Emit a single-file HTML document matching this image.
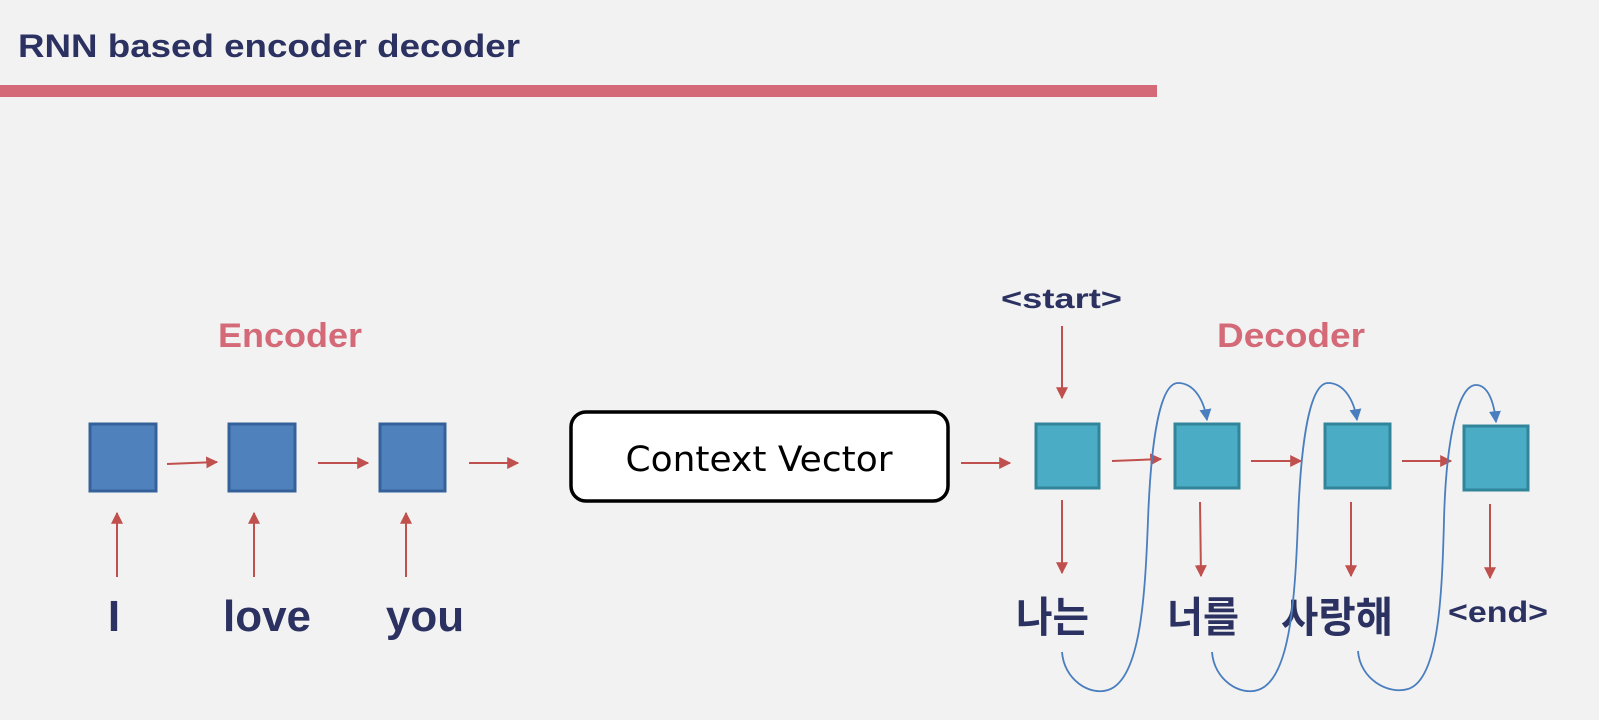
<!DOCTYPE html>
<html><head><meta charset="utf-8"><style>
html,body{margin:0;padding:0;background:#f2f2f2;}
svg{display:block;}
</style></head><body>
<svg width="1599" height="720" viewBox="0 0 1599 720" xmlns="http://www.w3.org/2000/svg">
<defs>
<marker id="ra" viewBox="0 0 10 10" refX="9" refY="5" markerWidth="4.5" markerHeight="4.5" orient="auto" markerUnits="userSpaceOnUse"><path d="M0,0 L10,5 L0,10 z" fill="#c0504d"/></marker>
<marker id="r" viewBox="0 0 10 10" refX="9" refY="5" markerWidth="12" markerHeight="12" orient="auto" markerUnits="userSpaceOnUse"><path d="M0,0 L10,5 L0,10 z" fill="#c0504d"/></marker>
<marker id="b" viewBox="0 0 10 10" refX="9" refY="5" markerWidth="12" markerHeight="12" orient="auto" markerUnits="userSpaceOnUse"><path d="M0,0 L10,5 L0,10 z" fill="#4a7ebf"/></marker>
</defs>
<rect width="1599" height="720" fill="#f2f2f2"/>
<text x="18" y="57" font-family="Liberation Sans, sans-serif" font-weight="bold" font-size="32" fill="#2b3160" textLength="502" lengthAdjust="spacingAndGlyphs">RNN based encoder decoder</text>
<rect x="0" y="85" width="1157" height="12" fill="#d46a77"/>

<text x="218" y="347" font-family="Liberation Sans, sans-serif" font-weight="bold" font-size="34" fill="#d46a77" textLength="144" lengthAdjust="spacingAndGlyphs">Encoder</text>
<text x="1217" y="347" font-family="Liberation Sans, sans-serif" font-weight="bold" font-size="34" fill="#d46a77" textLength="148" lengthAdjust="spacingAndGlyphs">Decoder</text>
<text x="1001" y="308" font-family="Liberation Sans, sans-serif" font-weight="bold" font-size="28" fill="#2b3160" textLength="121" lengthAdjust="spacingAndGlyphs">&lt;start&gt;</text>

<g fill="#4f81bd" stroke="#35619a" stroke-width="3">
<rect x="90" y="424" width="66" height="67"/>
<rect x="229" y="424" width="66" height="67"/>
<rect x="380" y="424" width="65" height="67"/>
</g>
<g stroke="#c0504d" stroke-width="2" fill="none" marker-end="url(#r)">
<line x1="167" y1="464" x2="217" y2="462"/>
<line x1="318" y1="463" x2="368" y2="463"/>
<line x1="469" y1="463" x2="518" y2="463"/>
<line x1="117" y1="577" x2="117" y2="513"/>
<line x1="254" y1="577" x2="254" y2="513"/>
<line x1="406" y1="577" x2="406" y2="513"/>
<line x1="961" y1="463" x2="1010" y2="463"/>
<line x1="1062" y1="326" x2="1062" y2="398"/>
<line x1="1112" y1="461" x2="1161" y2="459"/>
<line x1="1251" y1="461" x2="1301" y2="461"/>
<line x1="1402" y1="461" x2="1451" y2="461"/>
<line x1="1062" y1="500" x2="1062" y2="573"/>
<line x1="1200" y1="502" x2="1201" y2="576"/>
<line x1="1351" y1="502" x2="1351" y2="576"/>
<line x1="1490" y1="504" x2="1490" y2="578"/>
</g>

<rect x="571" y="412" width="377" height="89" rx="15" fill="#fff" stroke="#000" stroke-width="3.5"/>
<text x="759" y="471" text-anchor="middle" font-family="DejaVu Sans, Liberation Sans, sans-serif" font-size="35" fill="#000" textLength="267" lengthAdjust="spacingAndGlyphs">Context Vector</text>

<g fill="#4bacc6" stroke="#31859b" stroke-width="3">
<rect x="1036" y="424" width="63" height="64"/>
<rect x="1175" y="424" width="64" height="64"/>
<rect x="1325" y="424" width="65" height="64"/>
<rect x="1464" y="426" width="64" height="64"/>
</g>

<g font-family="Liberation Sans, 'Noto Sans CJK KR', sans-serif" font-weight="bold" fill="#2b3160">
<text x="114" y="631" font-size="44" text-anchor="middle">I</text>
<text x="267" y="631" font-size="44" text-anchor="middle">love</text>
<text x="425" y="631" font-size="44" text-anchor="middle">you</text>
<text x="1016" y="632" font-size="42" textLength="73" lengthAdjust="spacingAndGlyphs">나는</text>
<text x="1167" y="632" font-size="42" textLength="72" lengthAdjust="spacingAndGlyphs">너를</text>
<text x="1281" y="632" font-size="42" textLength="112" lengthAdjust="spacingAndGlyphs">사랑해</text>
<text x="1448" y="622" font-size="30" textLength="100" lengthAdjust="spacingAndGlyphs">&lt;end&gt;</text>
</g>

<g stroke="#4a7ebf" stroke-width="1.8" fill="none" marker-end="url(#b)">
<path d="M1062,652 C1064,680 1090,696 1108,690 C1140,680 1145,600 1148,520 C1151,440 1160,383 1178,383 C1194,383 1204,400 1207,420"/>
<path d="M1212,652 C1214,680 1240,696 1258,690 C1290,680 1295,600 1298,520 C1301,440 1310,383 1328,383 C1344,383 1354,400 1357,420"/>
<path d="M1358,651 C1360,679 1388,695 1408,689 C1438,680 1442,600 1444,520 C1446,440 1458,385 1476,385 C1488,385 1494,402 1496,422"/>
</g>
</svg>
</body></html>
